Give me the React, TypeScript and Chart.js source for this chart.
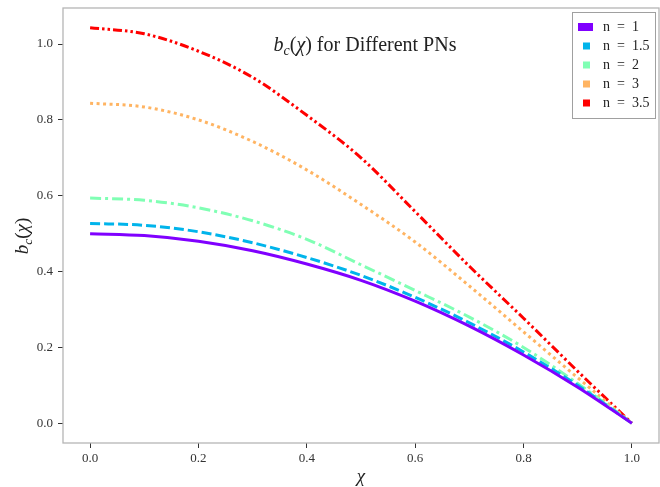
import React, { useEffect, useRef } from "react";
import { Chart, registerables } from "chart.js";

Chart.register(...registerables);

const chi = [0, 0.1, 0.2, 0.3, 0.4, 0.5, 0.6, 0.7, 0.8, 0.9, 1.0];
const n1 = [0.5, 0.495, 0.48, 0.455, 0.42, 0.377, 0.322, 0.256, 0.18, 0.095, 0];
const n15 = [0.527, 0.522, 0.505, 0.476, 0.437, 0.39, 0.332, 0.265, 0.188, 0.1, 0];
const n2 = [0.594, 0.588, 0.568, 0.534, 0.485, 0.418, 0.35, 0.28, 0.2, 0.105, 0];
const n3 = [0.844, 0.834, 0.8, 0.743, 0.668, 0.577, 0.478, 0.362, 0.241, 0.12, 0];
const n35 = [1.043, 1.027, 0.981, 0.912, 0.812, 0.7, 0.558, 0.414, 0.277, 0.137, 0];

const seriesLabels = ["n = 1", "n = 1.5", "n = 2", "n = 3", "n = 3.5"];
const seriesValues = [n1, n15, n2, n3, n35];
const seriesColors = ["#8000ff", "#00b4eb", "#80ffb4", "#ffb462", "#ff0000"];
const seriesDashes = [[], [10, 4], [11, 4, 3, 4], [3, 3.5], [9, 3, 2.5, 3, 2.5, 3]];

const xTicks = [0, 0.2, 0.4, 0.6, 0.8, 1.0];
const yTicks = [0, 0.2, 0.4, 0.6, 0.8, 1.0];

const SERIF = "'Liberation Serif', 'DejaVu Serif', serif";

function partsFor(size: number) {
  return [
    { t: "b", font: `italic ${size}px ${SERIF}`, dy: 0 },
    { t: "c", font: `italic ${size * 0.7}px ${SERIF}`, dy: size * 0.22 },
    { t: "(", font: `${size}px ${SERIF}`, dy: 0 },
    { t: "χ", font: `italic ${size}px ${SERIF}`, dy: 0 },
    { t: ")", font: `${size}px ${SERIF}`, dy: 0 },
  ];
}

function measureBc(ctx: CanvasRenderingContext2D, size: number) {
  let w = 0;
  for (const p of partsFor(size)) {
    ctx.font = p.font;
    w += ctx.measureText(p.t).width;
  }
  return w;
}

function drawBc(ctx: CanvasRenderingContext2D, x: number, y: number, size: number) {
  let cx = x;
  ctx.textAlign = "left";
  ctx.textBaseline = "alphabetic";
  for (const p of partsFor(size)) {
    ctx.font = p.font;
    ctx.fillText(p.t, cx, y + p.dy);
    cx += ctx.measureText(p.t).width;
  }
  return cx - x;
}

const decorPlugin = {
  id: "decor",
  afterDraw(chart: any) {
    const ctx: CanvasRenderingContext2D = chart.ctx;
    const a = chart.chartArea;
    ctx.save();
    // frame
    ctx.strokeStyle = "#b5b5b5";
    ctx.lineWidth = 1.3;
    ctx.strokeRect(a.left, a.top, a.right - a.left, a.bottom - a.top);

    ctx.fillStyle = "#222";
    // title
    const size = 20;
    const rest = " for Different PNs";
    const bcw = measureBc(ctx, size);
    ctx.font = `${size}px ${SERIF}`;
    const w = bcw + ctx.measureText(rest).width;
    const startX = 365 - w / 2;
    const bw = drawBc(ctx, startX, 51, size);
    ctx.font = `${size}px ${SERIF}`;
    ctx.fillText(rest, startX + bw, 51);

    // y label
    ctx.save();
    ctx.translate(28, 236);
    ctx.rotate(-Math.PI / 2);
    const yw = measureBc(ctx, 19);
    drawBc(ctx, -yw / 2, 0, 19);
    ctx.restore();

    // x label
    ctx.font = `italic 19px ${SERIF}`;
    ctx.textAlign = "center";
    ctx.textBaseline = "alphabetic";
    ctx.fillText("χ", (a.left + a.right) / 2, 482);

    // legend
    const lx = 572, ly = 12, lw = 83, lh = 106;
    ctx.fillStyle = "#ffffff";
    ctx.fillRect(lx, ly, lw, lh);
    ctx.strokeStyle = "#a0a0a0";
    ctx.lineWidth = 1;
    ctx.strokeRect(lx + 0.5, ly + 0.5, lw, lh);
    chart.data.datasets.forEach((ds: any, i: number) => {
      const cy = 27 + i * 19;
      ctx.fillStyle = ds.borderColor;
      if (i === 0) ctx.fillRect(578, cy - 4, 15, 8);
      else ctx.fillRect(583, cy - 3.5, 7, 7);
      ctx.fillStyle = "#222";
      ctx.font = `14px ${SERIF}`;
      ctx.textAlign = "left";
      ctx.textBaseline = "middle";
      ctx.fillText(ds.label.replace(/ = /, "  =  "), 603, cy);
    });
    ctx.restore();
  },
};

export default function App() {
  const ref = useRef<HTMLCanvasElement>(null);
  useEffect(() => {
    if (!ref.current) return;
    const chart = new Chart(ref.current, {
      type: "line",
      data: {
        datasets: seriesLabels.map((label, i) => ({
          label,
          data: chi.map((x, j) => ({ x, y: seriesValues[i][j] })),
          borderColor: seriesColors[i],
          backgroundColor: seriesColors[i],
          borderDash: seriesDashes[i],
          borderWidth: 3,
          pointRadius: 0,
          fill: false,
          cubicInterpolationMode: "monotone" as const,
        })),
      },
      options: {
        animation: false,
        responsive: false,
        layout: { padding: { top: 8, right: 1, left: 0, bottom: 0 } },
        plugins: { legend: { display: false }, title: { display: false }, tooltip: { enabled: false } },
        scales: {
          x: {
            type: "linear",
            min: -0.05,
            max: 1.05,
            afterFit: (s: any) => { s.height = 44; s.paddingLeft = 0; s.paddingRight = 0; },
            afterBuildTicks: (s: any) => { s.ticks = xTicks.map((v) => ({ value: v })); },
            ticks: {
              callback: (v: any) => Number(v).toFixed(1),
              color: "#333",
              font: { family: SERIF, size: 13 },
              padding: 3,
              maxRotation: 0,
            },
            grid: { drawOnChartArea: false, drawTicks: true, tickLength: 5, color: "#333" },
            border: { display: false },
          },
          y: {
            type: "linear",
            min: -0.052,
            max: 1.095,
            afterFit: (s: any) => { s.width = 63; s.paddingTop = 0; s.paddingBottom = 0; },
            afterBuildTicks: (s: any) => { s.ticks = yTicks.map((v) => ({ value: v })); },
            ticks: {
              callback: (v: any) => Number(v).toFixed(1),
              color: "#333",
              font: { family: SERIF, size: 13 },
              padding: 5,
            },
            grid: { drawOnChartArea: false, drawTicks: true, tickLength: 5, color: "#333" },
            border: { display: false },
          },
        },
      },
      plugins: [decorPlugin],
    });
    return () => chart.destroy();
  }, []);
  return (
    <div style={{ position: "fixed", left: 0, top: 0, width: 660, height: 487, background: "#fff" }}>
      <canvas ref={ref} width={660} height={487} style={{ width: 660, height: 487, display: "block" }} />
    </div>
  );
}
